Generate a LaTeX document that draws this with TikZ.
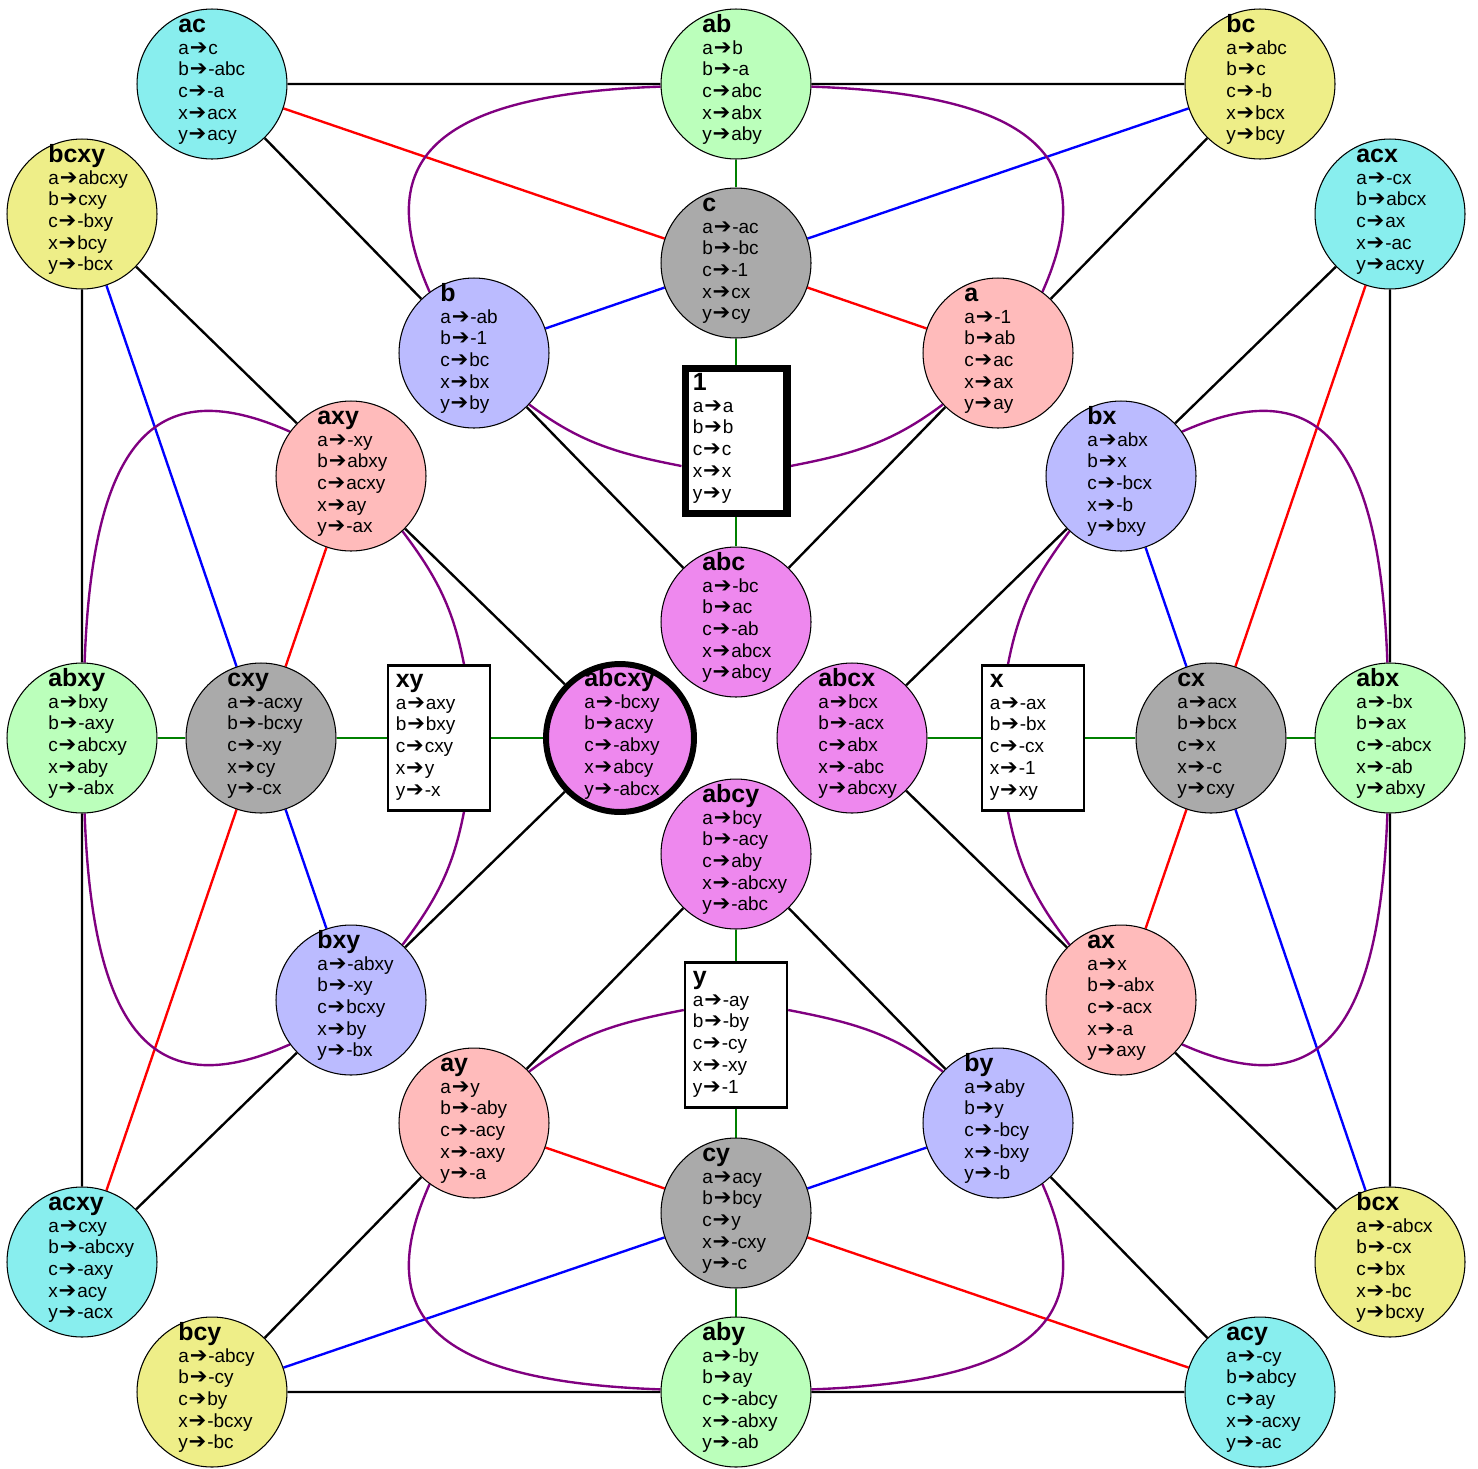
\documentclass[tikz,border=0pt]{standalone}
\usepackage{fontspec}
\setmainfont{Liberation Sans}
\newfontfamily\arrowfont{DejaVu Sans}
\usetikzlibrary{calc}
\definecolor{cyanN}{HTML}{88EEEE}
\definecolor{grnN}{HTML}{BBFFBB}
\definecolor{yelN}{HTML}{EEEE88}
\definecolor{gryN}{HTML}{AAAAAA}
\definecolor{lavN}{HTML}{BBBBFF}
\definecolor{pnkN}{HTML}{FFBBBB}
\definecolor{vioN}{HTML}{EE88EE}
\definecolor{eGreen}{HTML}{008000}
\definecolor{ePurple}{HTML}{800080}
\pgfdeclarelayer{bg}
\pgfsetlayers{bg,main}
\newcommand\harr{{\kern0.5pt\arrowfont\fontsize{12}{12}\selectfont ➔\kern0.5pt}}
\newcommand\lbl[1]{{\fontsize{14.2}{12.36}\selectfont\bfseries #1}}
\newcommand\cn[6]{%
 \node[circ,fill=#3] (#1) at (#4,-#5) {};
 \node[txt] (#1-t) at ($(#1.center)+(-34,51.7)$) {\begin{tabular}[t]{@{}l@{}}\lbl{#2}\\#6\end{tabular}};}
\newcommand\bn[5]{%
 \node[boxn] (#1) at (#3,-#4) {};
 \node[txt] (#1-t) at ($(#1.center)+(-43.5,50.5)$) {\begin{tabular}[t]{@{}l@{}}\lbl{#2}\\#5\end{tabular}};}
\begin{document}
\begin{tikzpicture}[x=0.02cm,y=0.02cm,
 circ/.style={circle,draw=black,line width=0.6pt,minimum size=3cm,inner sep=0pt},
 boxn/.style={rectangle,draw=black,fill=white,line width=1.4pt,minimum width=2.04cm,minimum height=2.9cm,inner sep=0pt},
 txt/.style={anchor=base west,inner sep=0pt,font=\fontsize{10.8}{12.36}\selectfont},
 edge/.style={line width=1.35pt},
 pcurve/.style={line width=1.35pt,ePurple},
 typeA/.style={pcurve,out distance=4.6cm,in distance=2.85cm}]
\useasboundingbox (0,0) rectangle (1478,-1468);

\cn{ac}{ac}{cyanN}{212}{84}{a\harr c\\b\harr -abc\\c\harr -a\\x\harr acx\\y\harr acy}
\cn{ab}{ab}{grnN}{736}{84}{a\harr b\\b\harr -a\\c\harr abc\\x\harr abx\\y\harr aby}
\cn{bc}{bc}{yelN}{1260}{84}{a\harr abc\\b\harr c\\c\harr -b\\x\harr bcx\\y\harr bcy}
\cn{bcxy}{bcxy}{yelN}{82}{214}{a\harr abcxy\\b\harr cxy\\c\harr -bxy\\x\harr bcy\\y\harr -bcx}
\cn{acx}{acx}{cyanN}{1390}{214}{a\harr -cx\\b\harr abcx\\c\harr ax\\x\harr -ac\\y\harr acxy}
\cn{c}{c}{gryN}{736}{263}{a\harr -ac\\b\harr -bc\\c\harr -1\\x\harr cx\\y\harr cy}
\cn{b}{b}{lavN}{474}{353}{a\harr -ab\\b\harr -1\\c\harr bc\\x\harr bx\\y\harr by}
\cn{a}{a}{pnkN}{998}{353}{a\harr -1\\b\harr ab\\c\harr ac\\x\harr ax\\y\harr ay}
\node[boxn,line width=4pt] (one) at (736,-441) {};
\node[txt] (one-t) at ($(one.center)+(-43.5,50.5)$) {\begin{tabular}[t]{@{}l@{}}\lbl{1}\\a\harr a\\b\harr b\\c\harr c\\x\harr x\\y\harr y\end{tabular}};
\cn{axy}{axy}{pnkN}{351}{476}{a\harr -xy\\b\harr abxy\\c\harr acxy\\x\harr ay\\y\harr -ax}
\cn{bx}{bx}{lavN}{1121}{476}{a\harr abx\\b\harr x\\c\harr -bcx\\x\harr -b\\y\harr bxy}
\cn{abc}{abc}{vioN}{736}{622}{a\harr -bc\\b\harr ac\\c\harr -ab\\x\harr abcx\\y\harr abcy}
\cn{abxy}{abxy}{grnN}{82}{738}{a\harr bxy\\b\harr -axy\\c\harr abcxy\\x\harr aby\\y\harr -abx}
\cn{cxy}{cxy}{gryN}{261}{738}{a\harr -acxy\\b\harr -bcxy\\c\harr -xy\\x\harr cy\\y\harr -cx}
\bn{xy}{xy}{439}{738}{a\harr axy\\b\harr bxy\\c\harr cxy\\x\harr y\\y\harr -x}
\node[circ,fill=vioN,line width=3.4pt,minimum size=2.96cm] (abcxy) at (620,-738) {};
\node[txt] (abcxy-t) at ($(abcxy.center)+(-36,51.5)$) {\begin{tabular}[t]{@{}l@{}}\lbl{abcxy}\\a\harr -bcxy\\b\harr acxy\\c\harr -abxy\\x\harr abcy\\y\harr -abcx\end{tabular}};
\cn{abcx}{abcx}{vioN}{852}{738}{a\harr bcx\\b\harr -acx\\c\harr abx\\x\harr -abc\\y\harr abcxy}
\bn{x}{x}{1033}{738}{a\harr -ax\\b\harr -bx\\c\harr -cx\\x\harr -1\\y\harr xy}
\cn{cx}{cx}{gryN}{1211}{738}{a\harr acx\\b\harr bcx\\c\harr x\\x\harr -c\\y\harr cxy}
\cn{abx}{abx}{grnN}{1390}{738}{a\harr -bx\\b\harr ax\\c\harr -abcx\\x\harr -ab\\y\harr abxy}
\cn{abcy}{abcy}{vioN}{736}{854}{a\harr bcy\\b\harr -acy\\c\harr aby\\x\harr -abcxy\\y\harr -abc}
\cn{bxy}{bxy}{lavN}{351}{1000}{a\harr -abxy\\b\harr -xy\\c\harr bcxy\\x\harr by\\y\harr -bx}
\cn{ax}{ax}{pnkN}{1121}{1000}{a\harr x\\b\harr -abx\\c\harr -acx\\x\harr -a\\y\harr axy}
\bn{y}{y}{736}{1035}{a\harr -ay\\b\harr -by\\c\harr -cy\\x\harr -xy\\y\harr -1}
\cn{ay}{ay}{pnkN}{474}{1123}{a\harr y\\b\harr -aby\\c\harr -acy\\x\harr -axy\\y\harr -a}
\cn{by}{by}{lavN}{998}{1123}{a\harr aby\\b\harr y\\c\harr -bcy\\x\harr -bxy\\y\harr -b}
\cn{cy}{cy}{gryN}{736}{1213}{a\harr acy\\b\harr bcy\\c\harr y\\x\harr -cxy\\y\harr -c}
\cn{acxy}{acxy}{cyanN}{82}{1262}{a\harr cxy\\b\harr -abcxy\\c\harr -axy\\x\harr acy\\y\harr -acx}
\cn{bcx}{bcx}{yelN}{1390}{1262}{a\harr -abcx\\b\harr -cx\\c\harr bx\\x\harr -bc\\y\harr bcxy}
\cn{bcy}{bcy}{yelN}{212}{1392}{a\harr -abcy\\b\harr -cy\\c\harr by\\x\harr -bcxy\\y\harr -bc}
\cn{aby}{aby}{grnN}{736}{1392}{a\harr -by\\b\harr ay\\c\harr -abcy\\x\harr -abxy\\y\harr -ab}
\cn{acy}{acy}{cyanN}{1260}{1392}{a\harr -cy\\b\harr abcy\\c\harr ay\\x\harr -acxy\\y\harr -ac}

\begin{pgfonlayer}{bg}
\fill[white] (0,0) rectangle (1478,-1468);
% black
\draw[edge] (ac)--(ab) (ab)--(bc) (ac)--(b) (bc)--(a)
 (bcxy)--(abxy) (abxy)--(acxy) (acx)--(abx) (abx)--(bcx)
 (bcxy)--(axy) (acx)--(bx) (axy)--(abcxy) (b)--(abc) (a)--(abc)
 (bx)--(abcx) (bxy)--(abcxy) (abcx)--(ax) (bxy)--(acxy) (ax)--(bcx)
 (abcy)--(ay) (abcy)--(by) (ay)--(bcy) (by)--(acy) (bcy)--(aby) (aby)--(acy);
% green
\draw[edge,eGreen] (ab)--(c) (c)--(one) (one)--(abc)
 (abxy)--(cxy) (cxy)--(xy) (xy)--(abcxy)
 (abcx)--(x) (x)--(cx) (cx)--(abx)
 (abcy)--(y) (y)--(cy) (cy)--(aby);
% red
\draw[edge,red] (ac)--(c) (c)--(a) (axy)--(cxy) (cxy)--(acxy)
 (acx)--(cx) (cx)--(ax) (ay)--(cy) (cy)--(acy);
% blue
\draw[edge,blue] (bc)--(c) (c)--(b) (bcxy)--(cxy) (cxy)--(bxy)
 (bx)--(cx) (cx)--(bcx) (bcy)--(cy) (cy)--(by);
% purple, outer loops
\draw[typeA] (ab.182) to[out=182,in=114] (b.126);
\draw[typeA] (ab.358) to[out=-2,in=66] (a.54);
\draw[typeA] (aby.2) to[out=2,in=294] (by.306);
\draw[typeA] (aby.178) to[out=178,in=246] (ay.234);
\draw[typeA] (abxy.272) to[out=272,in=204] (bxy.216);
\draw[typeA] (abxy.88) to[out=88,in=156] (axy.144);
\draw[typeA] (abx.92) to[out=92,in=24] (bx.36);
\draw[typeA] (abx.268) to[out=268,in=336] (ax.324);
% purple, inner arcs
\draw[pcurve] (b.317) to[out=323,in=169] ($(one.west)+(0,-25)$);
\draw[pcurve] (a.223) to[out=217,in=11] ($(one.east)+(0,-25)$);
\draw[pcurve] (by.137) to[out=143,in=349] ($(y.east)+(0,25)$);
\draw[pcurve] (ay.43) to[out=37,in=191] ($(y.west)+(0,25)$);
\draw[pcurve] (bxy.47) to[out=53,in=259] ($(xy.south)+(25,0)$);
\draw[pcurve] (axy.313) to[out=307,in=101] ($(xy.north)+(25,0)$);
\draw[pcurve] (bx.227) to[out=233,in=79] ($(x.north)+(-25,0)$);
\draw[pcurve] (ax.133) to[out=127,in=281] ($(x.south)+(-25,0)$);
\end{pgfonlayer}
\end{tikzpicture}
\end{document}
